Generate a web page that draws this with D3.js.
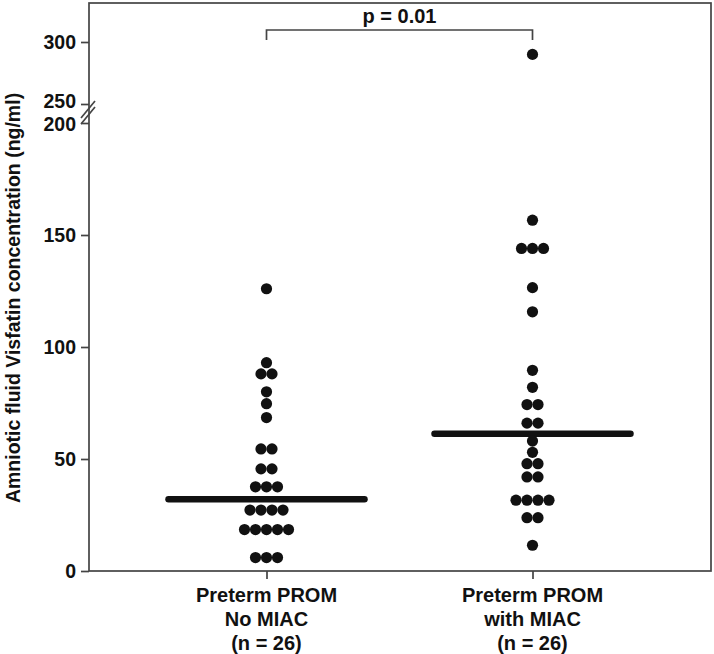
<!DOCTYPE html>
<html>
<head>
<meta charset="utf-8">
<script src="https://cdn.jsdelivr.net/npm/d3@7"></script>
<style>
  html, body { margin: 0; padding: 0; background: #fff; }
  svg { display: block; font-family: "Liberation Sans", Arial, sans-serif; }
</style>
</head>
<body>
<svg id="chart" width="714" height="654"></svg>
<script>
// ---- data ----
const categories = ["Preterm PROM|No MIAC|(n = 26)", "Preterm PROM|with MIAC|(n = 26)"];
const noMiac = [126, 93, 88, 88, 80, 74.7, 68.5, 54.5, 54.5, 45.6, 45.6, 37.6, 37.6, 37.6,
  27.2, 27.2, 27.2, 27.2, 18.5, 18.5, 18.5, 18.5, 18.5, 6, 6, 6];
const withMiac = [290, 156.6, 144, 144, 144, 126.5, 115.7, 89.6, 82, 74.3, 74.3, 66, 66, 58, 53,
  47.9, 47.9, 42, 42, 31.6, 31.6, 31.6, 31.6, 23.8, 23.8, 11.5];
const medians = [32, 61.3];
const lowerTicks = [0, 50, 100, 150, 200];
const upperTicks = [250, 300];
const pLabel = "p = 0.01";
const yLabel = "Amniotic fluid Visfatin concentration (ng/ml)";

const series = [noMiac, withMiac];

(function draw() {
const svg = d3.select("#chart");
const mLeft = 89, mRight = 711, mTop = 3, mBottom = 571;
const lineColor = "#444";

// scales
const x = d3.scalePoint().domain(categories).range([266.5, 532.5]);
const yLow = d3.scaleLinear().domain([0, 200]).range([mBottom, 123]);
const yHigh = d3.scaleLinear().domain([250, 300]).range([104, 42]);
const y = v => v <= 200 ? yLow(v) : yHigh(v);

// frame
svg.append("rect").attr("x", mLeft).attr("y", mTop)
  .attr("width", mRight - mLeft).attr("height", mBottom - mTop)
  .attr("fill", "none").attr("stroke", lineColor).attr("stroke-width", 1.7);

// y axes (lower and upper)
const axLow = svg.append("g").attr("transform", `translate(${mLeft},0)`)
  .call(d3.axisLeft(yLow).tickValues(lowerTicks).tickSize(8).tickPadding(5).tickFormat(d3.format("d")));
const axHigh = svg.append("g").attr("transform", `translate(${mLeft},0)`)
  .call(d3.axisLeft(yHigh).tickValues(upperTicks).tickSize(8).tickPadding(5).tickFormat(d3.format("d")));
[axLow, axHigh].forEach(ax => {
  ax.select(".domain").remove();
  ax.selectAll("line").attr("stroke", lineColor).attr("stroke-width", 1.7);
  ax.selectAll("text").attr("font-size", 19.5).attr("font-weight", "bold").attr("fill", "#111")
    .attr("font-family", "Liberation Sans, Arial, sans-serif");
});
// keep the labels either side of the break apart
axHigh.selectAll(".tick").filter(d => d === 250).select("text").attr("dy", "0.2em");
axLow.selectAll(".tick").filter(d => d === 200).select("text").attr("dy", "0.36em");

// break slashes
const brk = svg.append("g").attr("stroke", lineColor).attr("stroke-width", 1.7);
brk.append("line").attr("x1", mLeft - 8).attr("y1", yLow(200) - 5).attr("x2", mLeft + 6).attr("y2", yHigh(250) - 3);
brk.append("line").attr("x1", mLeft - 8).attr("y1", yLow(200) + 1).attr("x2", mLeft + 6).attr("y2", yHigh(250) + 3);

// x axis
const axX = svg.append("g").attr("transform", `translate(0,${mBottom})`)
  .call(d3.axisBottom(x).tickSize(8).tickFormat(""));
axX.select(".domain").remove();
axX.selectAll("line").attr("stroke", lineColor).attr("stroke-width", 1.7);

// x labels
categories.forEach(c => {
  const t = svg.append("text").attr("text-anchor", "middle")
    .attr("font-size", 20).attr("font-weight", "bold").attr("fill", "#111");
  c.split("|").forEach((line, i) => {
    t.append("tspan").attr("x", x(c)).attr("y", 602 + i * 24).text(line);
  });
});

// y label
svg.append("text")
  .attr("transform", `translate(20,${298}) rotate(-90)`)
  .attr("text-anchor", "middle")
  .attr("font-size", 19.5).attr("font-weight", "bold").attr("fill", "#111")
  .text(yLabel);

// medians
categories.forEach((c, i) => {
  svg.append("line")
    .attr("x1", x(c) - 98).attr("x2", x(c) + 98)
    .attr("y1", y(medians[i])).attr("y2", y(medians[i]))
    .attr("stroke", "#111").attr("stroke-width", 6.5).attr("stroke-linecap", "round");
});

// dots (rows of equal values spread horizontally)
const step = 11;
categories.forEach((c, i) => {
  const groups = d3.groups(series[i], v => v);
  groups.forEach(([v, arr]) => {
    const k = arr.length;
    arr.forEach((_, j) => {
      svg.append("circle")
        .attr("cx", x(c) + (j - (k - 1) / 2) * step)
        .attr("cy", y(v))
        .attr("r", 5.6)
        .attr("fill", "#111");
    });
  });
});

// significance bracket
const bY = 30;
svg.append("path")
  .attr("d", `M${x(categories[0])},${bY + 10}V${bY}H${x(categories[1])}V${bY + 10}`)
  .attr("fill", "none").attr("stroke", lineColor).attr("stroke-width", 1.7);
svg.append("text").attr("x", (x(categories[0]) + x(categories[1])) / 2).attr("y", 23)
  .attr("text-anchor", "middle").attr("font-size", 20).attr("font-weight", "bold").attr("fill", "#111")
  .text(pLabel);
})();
</script>
</body>
</html>
